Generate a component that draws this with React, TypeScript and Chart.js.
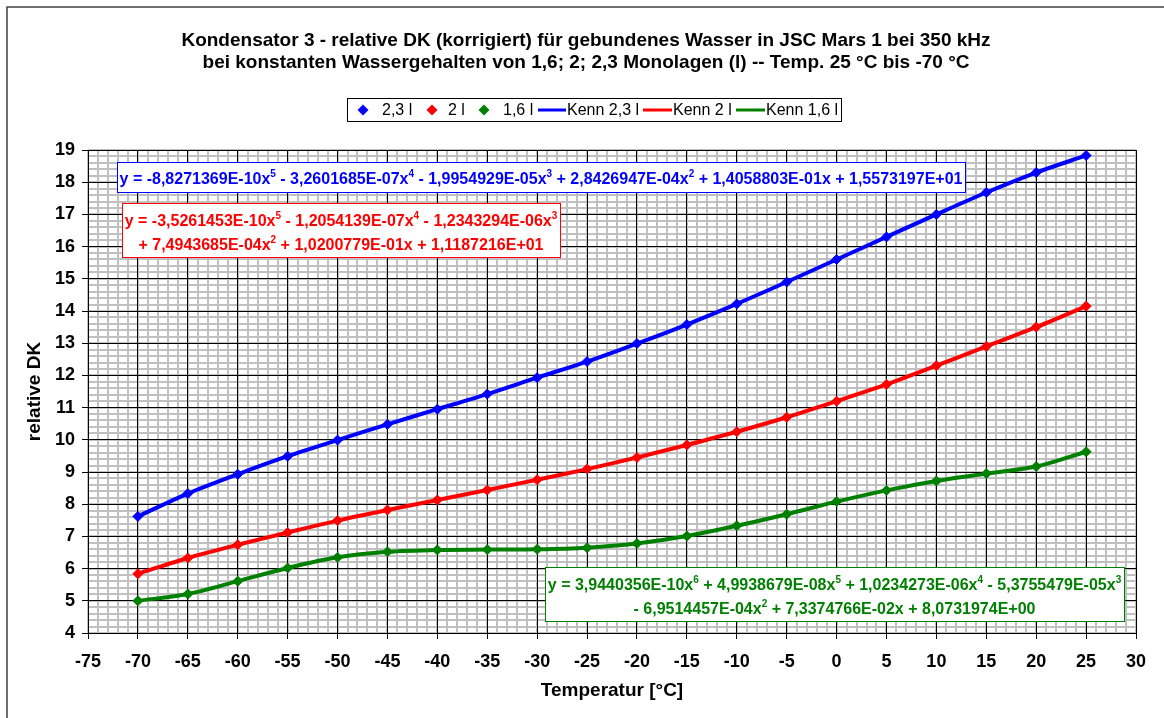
import React, { useEffect, useRef } from "react";
import { Chart, registerables } from "chart.js";

Chart.register(...registerables);

const temperatures = [-70, -65, -60, -55, -50, -45, -40, -35, -30, -25, -20, -15, -10, -5, 0, 5, 10, 15, 20, 25];
const dk23 = [7.62, 8.33, 8.93, 9.49, 9.99, 10.48, 10.95, 11.42, 11.93, 12.43, 12.99, 13.58, 14.22, 14.9, 15.6, 16.3, 17.0, 17.68, 18.3, 18.83];
const dk2 = [5.84, 6.33, 6.74, 7.12, 7.49, 7.82, 8.13, 8.44, 8.76, 9.09, 9.45, 9.84, 10.25, 10.7, 11.2, 11.72, 12.3, 12.9, 13.5, 14.15];
const dk16 = [5.0, 5.21, 5.61, 6.02, 6.35, 6.52, 6.58, 6.59, 6.6, 6.65, 6.78, 7.01, 7.33, 7.69, 8.08, 8.43, 8.72, 8.95, 9.17, 9.63];

const titleLines = [
  "Kondensator 3 - relative DK (korrigiert) für gebundenes Wasser in JSC Mars 1 bei 350 kHz",
  "bei konstanten Wassergehalten von 1,6; 2; 2,3 Monolagen (l) -- Temp. 25 °C bis -70 °C",
];
const xTitle = "Temperatur [°C]";
const yTitle = "relative DK";
const seriesNames = ["2,3 l", "2 l", "1,6 l", "Kenn 2,3 l", "Kenn 2 l", "Kenn 1,6 l"];
const eqBlue = ["y = -8,8271369E-10x^5 - 3,2601685E-07x^4 - 1,9954929E-05x^3 + 2,8426947E-04x^2 + 1,4058803E-01x + 1,5573197E+01"];
const eqRed = [
  "y = -3,5261453E-10x^5 - 1,2054139E-07x^4 - 1,2343294E-06x^3",
  "+ 7,4943685E-04x^2 + 1,0200779E-01x + 1,1187216E+01",
];
const eqGreen = [
  "y = 3,9440356E-10x^6 + 4,9938679E-08x^5 + 1,0234273E-06x^4 - 5,3755479E-05x^3",
  "- 6,9514457E-04x^2 + 7,3374766E-02x + 8,0731974E+00",
];

const BLUE = "#0000ff";
const RED = "#ff0000";
const GREEN = "#008000";
const FONT = "'Liberation Sans', Arial, sans-serif";

function pts(vals: number[]) {
  return temperatures.map((t, i) => ({ x: t, y: vals[i] }));
}

function parseSup(s: string) {
  const parts: { t: string; sup: boolean }[] = [];
  const re = /\^(\d)/g;
  let last = 0;
  let m;
  while ((m = re.exec(s)) !== null) {
    if (m.index > last) parts.push({ t: s.slice(last, m.index), sup: false });
    parts.push({ t: m[1], sup: true });
    last = m.index + m[0].length;
  }
  if (last < s.length) parts.push({ t: s.slice(last), sup: false });
  return parts;
}

function drawEqLine(ctx: CanvasRenderingContext2D, s: string, cx: number, cy: number, color: string) {
  const parts = parseSup(s);
  const mainF = `bold 16px ${FONT}`;
  const supF = `bold 10px ${FONT}`;
  let w = 0;
  for (const p of parts) {
    ctx.font = p.sup ? supF : mainF;
    w += ctx.measureText(p.t).width;
  }
  let x = cx - w / 2;
  ctx.fillStyle = color;
  ctx.textBaseline = "alphabetic";
  ctx.textAlign = "left";
  for (const p of parts) {
    ctx.font = p.sup ? supF : mainF;
    ctx.fillText(p.t, x, p.sup ? cy - 7 : cy);
    x += ctx.measureText(p.t).width;
  }
}

function eqBox(ctx: CanvasRenderingContext2D, lines: string[], x0: number, y0: number, x1: number, y1: number, color: string, lineYs: number[]) {
  ctx.save();
  ctx.fillStyle = "#ffffff";
  ctx.fillRect(x0, y0, x1 - x0, y1 - y0);
  ctx.strokeStyle = color;
  ctx.lineWidth = 1;
  ctx.strokeRect(x0 + 0.5, y0 + 0.5, x1 - x0, y1 - y0);
  lines.forEach((l, i) => drawEqLine(ctx, l, (x0 + x1) / 2, lineYs[i], color));
  ctx.restore();
}

const decorPlugin = {
  id: "decor",
  afterDraw(chart: any) {
    const ctx: CanvasRenderingContext2D = chart.ctx;
    const area = chart.chartArea;
    ctx.save();
    // outer border
    ctx.strokeStyle = "#404040";
    ctx.lineWidth = 1.5;
    ctx.strokeRect(7, 7, 1200, 800);
    // title
    ctx.fillStyle = "#000";
    ctx.font = `bold 19px ${FONT}`;
    ctx.textAlign = "center";
    ctx.textBaseline = "middle";
    ctx.fillText(titleLines[0], 586, 41);
    ctx.fillText(titleLines[1], 586, 63);
    // axis titles
    ctx.font = `bold 19px ${FONT}`;
    ctx.fillText(xTitle, (area.left + area.right) / 2, 691);
    ctx.save();
    ctx.translate(35, (area.top + area.bottom) / 2);
    ctx.rotate(-Math.PI / 2);
    ctx.fillText(yTitle, 0, 0);
    ctx.restore();
    // legend
    ctx.fillStyle = "#fff";
    ctx.fillRect(347, 98, 494, 23);
    ctx.strokeStyle = "#000";
    ctx.lineWidth = 1;
    ctx.strokeRect(347.5, 98.5, 494, 23);
    const ly = 110;
    const cols = [BLUE, RED, GREEN];
    const diamondX = [363, 432, 484];
    const textX = [382, 448, 503];
    ctx.font = `16px ${FONT}`;
    ctx.textAlign = "left";
    ctx.textBaseline = "middle";
    for (let i = 0; i < 3; i++) {
      ctx.fillStyle = cols[i];
      ctx.beginPath();
      ctx.moveTo(diamondX[i], ly - 5.5);
      ctx.lineTo(diamondX[i] + 5.5, ly);
      ctx.lineTo(diamondX[i], ly + 5.5);
      ctx.lineTo(diamondX[i] - 5.5, ly);
      ctx.closePath();
      ctx.fill();
      ctx.fillStyle = "#000";
      ctx.fillText(seriesNames[i], textX[i], ly + 1);
    }
    const lineX = [[538, 566], [643, 672], [736, 765]];
    for (let i = 0; i < 3; i++) {
      ctx.strokeStyle = cols[i];
      ctx.lineWidth = 3;
      ctx.beginPath();
      ctx.moveTo(lineX[i][0], ly);
      ctx.lineTo(lineX[i][1], ly);
      ctx.stroke();
      ctx.fillStyle = "#000";
      ctx.fillText(seriesNames[i + 3], lineX[i][1] + 1, ly + 1);
    }
    // equation boxes
    eqBox(ctx, eqBlue, 117, 162, 965, 192, BLUE, [184]);
    eqBox(ctx, eqRed, 122, 203, 560, 257, RED, [226, 250]);
    eqBox(ctx, eqGreen, 545, 567, 1124, 621, GREEN, [590, 614]);
    ctx.restore();
  },
};

export default function App() {
  const ref = useRef<HTMLCanvasElement | null>(null);
  useEffect(() => {
    if (!ref.current) return;
    const tickFont = { family: FONT, size: 18, weight: "bold" as const };
    const chart = new Chart(ref.current, {
      type: "line",
      data: {
        datasets: [
          { label: seriesNames[0], data: pts(dk23), showLine: false, pointStyle: "rectRot", pointRadius: 5, backgroundColor: BLUE, borderColor: BLUE, order: 0 },
          { label: seriesNames[1], data: pts(dk2), showLine: false, pointStyle: "rectRot", pointRadius: 5, backgroundColor: RED, borderColor: RED, order: 0 },
          { label: seriesNames[2], data: pts(dk16), showLine: false, pointStyle: "rectRot", pointRadius: 5, backgroundColor: GREEN, borderColor: GREEN, order: 0 },
          { label: seriesNames[3], data: pts(dk23), borderColor: BLUE, borderWidth: 4, pointRadius: 0, tension: 0.3, order: 1 },
          { label: seriesNames[4], data: pts(dk2), borderColor: RED, borderWidth: 4, pointRadius: 0, tension: 0.3, order: 1 },
          { label: seriesNames[5], data: pts(dk16), borderColor: GREEN, borderWidth: 4, pointRadius: 0, tension: 0.3, order: 1 },
        ],
      },
      options: {
        responsive: false,
        animation: false,
        layout: { padding: { top: 150, right: 28, bottom: 0, left: 0 } },
        plugins: { legend: { display: false }, title: { display: false }, tooltip: { enabled: false } },
        scales: {
          xMinor: {
            type: "linear", position: "bottom", min: -75, max: 30, z: -1,
            ticks: { display: false, stepSize: 1 },
            grid: { color: "#c0c0c0", lineWidth: 2, drawTicks: false },
            border: { display: false },
            afterFit: (s: any) => { s.height = 0; },
          },
          yMinor: {
            type: "linear", position: "left", min: 4, max: 19, z: -1,
            ticks: { display: false, stepSize: 0.2 },
            grid: { color: "#c0c0c0", lineWidth: 2, drawTicks: false },
            border: { display: false },
            afterFit: (s: any) => { s.width = 0; },
          },
          x: {
            type: "linear", position: "bottom", min: -75, max: 30,
            ticks: { stepSize: 5, color: "#000", font: tickFont, padding: 12, autoSkip: false, maxRotation: 0 },
            grid: { color: "#000", lineWidth: 1, tickLength: 6, tickColor: "#000" },
            border: { display: true, color: "#000", width: 1 },
            afterFit: (s: any) => { s.height = 85; },
          },
          y: {
            type: "linear", position: "left", min: 4, max: 19,
            ticks: { stepSize: 1, color: "#000", font: tickFont, padding: 7, autoSkip: false },
            grid: { color: "#000", lineWidth: 1, tickLength: 6, tickColor: "#000" },
            border: { display: true, color: "#000", width: 1 },
            afterFit: (s: any) => { s.width = 88; },
          },
        },
      },
      plugins: [decorPlugin],
    } as any);
    return () => chart.destroy();
  }, []);
  return (
    <div style={{ position: "fixed", left: 0, top: 0, width: 1164, height: 718, background: "#fff" }}>
      <canvas ref={ref} width={1164} height={718} style={{ display: "block" }} />
    </div>
  );
}
